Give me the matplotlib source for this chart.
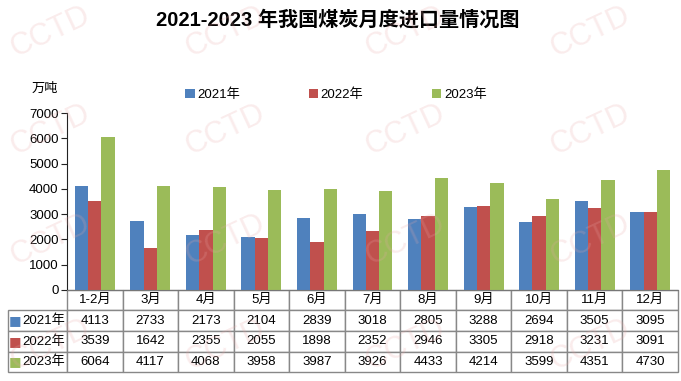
import numpy as np
import matplotlib.pyplot as plt
from matplotlib.table import Table

plt.rcParams['font.family'] = ['Liberation Sans', 'Noto Sans CJK SC', 'DejaVu Sans']

# data
months = ['1-2月', '3月', '4月', '5月', '6月', '7月', '8月', '9月', '10月', '11月', '12月']
years = ['2021年', '2022年', '2023年']
v2021 = [4113, 2733, 2173, 2104, 2839, 3018, 2805, 3288, 2694, 3505, 3095]
v2022 = [3539, 1642, 2355, 2055, 1898, 2352, 2946, 3305, 2918, 3231, 3091]
v2023 = [6064, 4117, 4068, 3958, 3987, 3926, 4433, 4214, 3599, 4351, 4730]
colors = ['#4F81BD', '#C0504D', '#9BBB59']

W, H = 681, 381
fig = plt.figure(figsize=(W / 100, H / 100), dpi=100)

ax_l, ax_r, ax_t, ax_b = 67, 678, 113, 290
ax = fig.add_axes([ax_l / W, 1 - ax_b / H, (ax_r - ax_l) / W, (ax_b - ax_t) / H])
ax.patch.set_alpha(0)

x = np.arange(len(months))
bw = 0.24
series = [v2021, v2022, v2023]
for i, (vals, c, lab) in enumerate(zip(series, colors, years)):
    ax.bar(x + (i - 1) * bw, vals, width=bw, color=c, label=lab, zorder=2)

ax.set_xlim(-0.5, len(months) - 0.5)
ax.set_ylim(0, 7000)
ax.set_yticks(range(0, 7001, 1000))
ax.tick_params(axis='y', labelsize=9.5, length=4, direction='out', color='#222222', pad=2)
ax.set_xticks([])
for s in ['top', 'right']:
    ax.spines[s].set_visible(False)
ax.spines['left'].set_color('#222222')
ax.spines['bottom'].set_color('#777777')

fig.text(338 / W, 1 - 20 / H, '2021-2023 年我国煤炭月度进口量情况图', fontsize=14.5,
         fontweight='bold', ha='center', va='center')
fig.text(45 / W, 1 - 89 / H, '万吨', fontsize=9.5, ha='center', va='center')

ax.legend(loc='center', bbox_to_anchor=((336 - ax_l) / (ax_r - ax_l), (ax_b - 95) / (ax_b - ax_t)),
          ncol=3, frameon=False, fontsize=9.5, handlelength=0.7, handleheight=0.7,
          handletextpad=0.2, columnspacing=5.2)

# data table
tb_l, tb_r, tb_t, tb_b = 8, 678, 290, 372
pw = ax_r - ax_l
ph = ax_b - ax_t
tab = Table(ax, bbox=[(tb_l - ax_l) / pw, -(tb_b - tb_t) / ph, (tb_r - tb_l) / pw, (tb_b - tb_t) / ph])
lab_w = ax_l - tb_l
col_w = (ax_r - ax_l) / len(months)
rows_h = [20, 21, 21, 20]
edge = '#888888'
for j, m in enumerate(months):
    c = tab.add_cell(0, j + 1, col_w, rows_h[0], text=m, loc='center', edgecolor=edge)
    c.get_text().set_fontsize(9.5)
c = tab.add_cell(0, 0, lab_w, rows_h[0], text='', edgecolor=edge)
c.visible_edges = ''
for i, (vals, yl) in enumerate(zip(series, years)):
    c = tab.add_cell(i + 1, 0, lab_w, rows_h[i + 1], text=yl, loc='right', edgecolor=edge)
    c.get_text().set_fontsize(9.5)
    c.PAD = 0.03
    for j, v in enumerate(vals):
        c = tab.add_cell(i + 1, j + 1, col_w, rows_h[i + 1], text=str(v), loc='center', edgecolor=edge)
        c.get_text().set_fontsize(9.5)
tab.auto_set_font_size(False)
ax.add_table(tab)

# colored markers in row labels
for i, c in enumerate(colors):
    yc = tb_t + sum(rows_h[:i + 1]) + rows_h[i + 1] / 2
    fig.text(15 / W, 1 - yc / H, '■', color=c, fontsize=9.5, ha='center', va='center',
             family='DejaVu Sans')

# faint watermark on top
for wx in [50, 225, 405, 590]:
    for wy in [32, 130, 240, 345]:
        fig.text(wx / W, 1 - wy / H, 'CCTD', fontsize=22, color='#e9a8a8', alpha=0.22,
                 rotation=25, ha='center', va='center', zorder=5)

fig.savefig('out.png', dpi=100)
